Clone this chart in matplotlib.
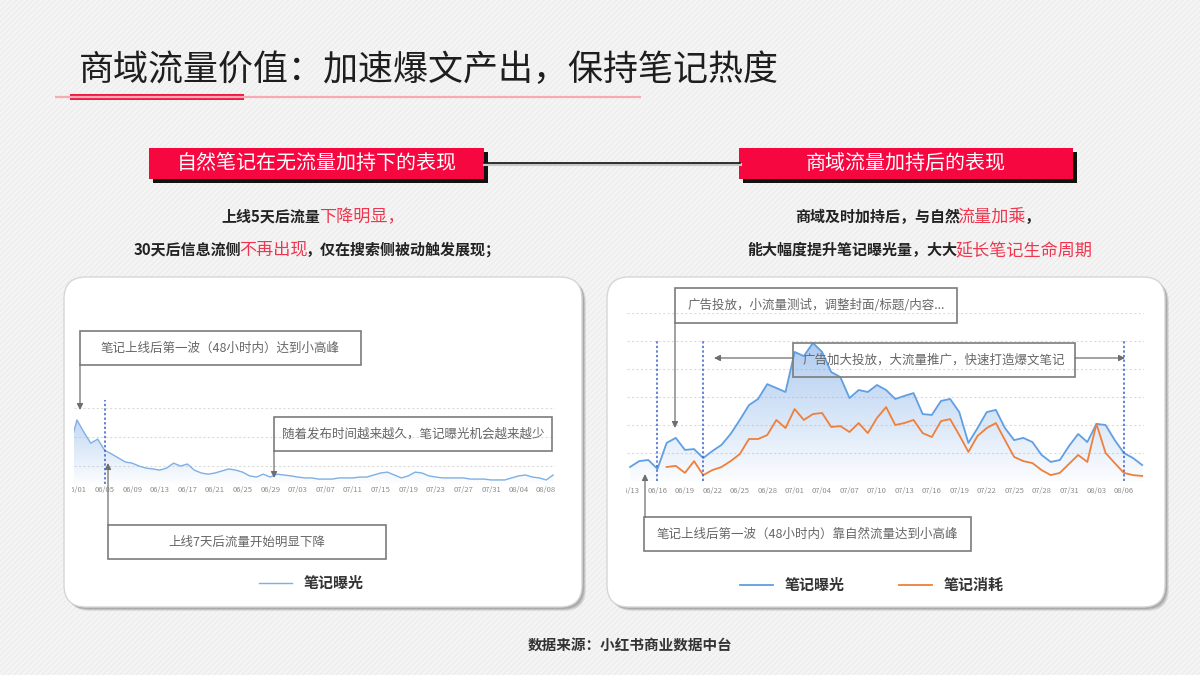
import numpy as np
import pandas as pd
import matplotlib
matplotlib.use('Agg')
import matplotlib.pyplot as plt
from matplotlib.patches import Rectangle, FancyBboxPatch
from matplotlib.transforms import Bbox, TransformedBbox

plt.rcParams['font.family'] = ['Noto Sans CJK SC', 'DejaVu Sans']
plt.rcParams['hatch.linewidth'] = 0.5

# ---------------- data ----------------
title = '商域流量价值：加速爆文产出，保持笔记热度'
left_head = '自然笔记在无流量加持下的表现'
right_head = '商域流量加持后的表现'
source = '数据来源：小红书商业数据中台'

# left chart: natural note, daily exposure, starting 05/31
left_start = '2021-05-31'
left_exposure = [1720, 2590, 2170, 1790, 1930, 1550, 1420, 1280, 1140, 1100,
                 1000, 930, 900, 860, 930, 1100, 1000, 1070, 860, 760,
                 720, 760, 830, 900, 860, 790, 660, 620, 720, 620,
                 720, 690, 660, 620, 590, 590, 550, 550, 550, 590,
                 590, 590, 620, 620, 690, 760, 790, 690, 590, 660,
                 790, 760, 660, 620, 590, 590, 590, 590, 550, 550,
                 550, 520, 520, 520, 590, 660, 690, 620, 590, 520, 690]
left_mark = ['2021-06-05']

# right chart: with paid traffic, daily exposure / cost, starting 06/13
right_start = '2021-06-13'
right_exposure = [500, 710, 750, 430, 1360, 1540, 1110, 1140, 820, 1070,
                  1290, 1680, 2180, 2710, 2930, 3460, 3320, 3180, 4610, 4460,
                  4930, 4610, 3890, 3710, 2960, 3250, 3180, 3430, 3250, 2930,
                  3040, 3140, 2390, 2360, 2860, 2930, 2460, 1360, 1890, 2460,
                  2540, 1890, 1460, 1540, 1390, 930, 680, 750, 1250, 1680,
                  1390, 2040, 2000, 1460, 1000, 820, 570]
right_cost = [np.nan] * 4 + [500, 540, 290, 710, 210, 390, 500, 710, 960, 1500,
                             1500, 1640, 2180, 1890, 2570, 2180, 2390, 2430, 1930, 1960,
                             1750, 2070, 1710, 2250, 2640, 2000, 2070, 2180, 1710, 1570,
                             2140, 2210, 1640, 1040, 1610, 1890, 2070, 1460, 860, 710,
                             640, 390, 210, 290, 610, 930, 680, 2040, 1000, 640,
                             290, 210, 180]
right_marks = ['2021-06-16', '2021-06-21', '2021-08-06']

left_notes = ['笔记上线后第一波（48小时内）达到小高峰',
              '随着发布时间越来越久，笔记曝光机会越来越少',
              '上线7天后流量开始明显下降']
right_notes = ['广告投放，小流量测试，调整封面/标题/内容...',
               '广告加大投放，大流量推广，快速打造爆文笔记',
               '笔记上线后第一波（48小时内）靠自然流量达到小高峰']

RED = '#f7073f'
PINK = '#f0364f'
GRAY_TXT = '#666666'
W, H = 1200, 675

fig = plt.figure(figsize=(12, 6.75), dpi=100)
fig.patch.set_facecolor('#f4f4f4')


def fig_rect(x0, y0, x1, y1):
    # pixel box (y down) -> figure fraction
    return [x0 / W, 1 - y1 / H, (x1 - x0) / W, (y1 - y0) / H]


bg = fig.add_axes([0, 0, 1, 1], zorder=0)
bg.set_xlim(0, W)
bg.set_ylim(H, 0)
bg.axis('off')

bg.add_patch(Rectangle((0, 0), W, H, facecolor='#f4f4f4', edgecolor='#e8e8e8',
                       hatch='//////', lw=0))

# title + underline
bg.text(79, 70, title, ha='left', va='center', fontsize=25.2, color='#1e1e1e')
bg.plot([55, 641], [96.5, 96.5], color='#f7a9b4', lw=1.6, solid_capstyle='butt')
bg.add_patch(Rectangle((70, 94), 174, 6, facecolor='#ef1a3f', edgecolor='none'))

# section headers
bg.plot([484, 740], [164, 164], color='#c8c8c8', lw=2.2)
bg.plot([484, 740], [163, 163], color='#111111', lw=1.2)
for (x0, x1), txt in zip([(149, 484), (739, 1073)], [left_head, right_head]):
    bg.add_patch(Rectangle((x0 + 4, 152), x1 - x0, 31, facecolor='#111111', edgecolor='none'))
    bg.add_patch(Rectangle((x0, 148), x1 - x0, 31, facecolor=RED, edgecolor='none'))
    bg.text((x0 + x1) / 2, 163.5, txt, ha='center', va='center', fontsize=14.4, color='white')

# panels
for x0, y0, x1, y1 in [(64, 277, 582, 607), (607, 277, 1165, 607)]:
    for k, a in [(4, 0.18), (3, 0.25), (2, 0.35)]:
        bg.add_patch(FancyBboxPatch((x0 + k, y0 + k), x1 - x0, y1 - y0,
                                    boxstyle='round,pad=0,rounding_size=22',
                                    facecolor='#7a7a7a', edgecolor='none', alpha=a))
    bg.add_patch(FancyBboxPatch((x0, y0), x1 - x0, y1 - y0,
                                boxstyle='round,pad=0,rounding_size=22',
                                facecolor='white', edgecolor='#d6d6d6', lw=1))

bg.text(630, 645, source, ha='center', va='center', fontsize=10.5,
        fontweight='bold', color='#333333')

# rich subtitles (mixed colours), centred on cx
renderer = fig.canvas.get_renderer()


def rich_line(ax, cx, y, parts, tight=2):
    texts = []
    x = 0
    for s, color, size, weight in parts:
        t = ax.text(x, y, s, ha='left', va='center', color=color,
                    fontsize=size, fontweight=weight)
        x += t.get_window_extent(renderer=renderer).width - tight
        texts.append(t)
    shift = cx - x / 2
    for t in texts:
        t.set_x(t.get_position()[0] + shift)


dark = '#222222'
DS, RS = 10.8, 12.3
rich_line(bg, 312, 217, [('上线5天后流量', dark, DS, 'bold'), ('下降明显，', PINK, RS, 'normal')])
rich_line(bg, 316, 250, [('30天后信息流侧', dark, DS, 'bold'), ('不再出现', PINK, RS, 'normal'),
                         ('，仅在搜索侧被动触发展现；', dark, DS, 'bold')])
rich_line(bg, 916, 217, [('商域及时加持后，与自然', dark, DS, 'bold'), ('流量加乘', PINK, RS, 'normal'),
                         ('，', dark, DS, 'bold')])
rich_line(bg, 919, 250, [('能大幅度提升笔记曝光量，大大', dark, DS, 'bold'),
                         ('延长笔记生命周期', PINK, RS, 'normal')])


def gradient_fill(ax, x, y, rgb, a_top, a_bot, y0):
    xlo, xhi = ax.get_xlim()
    ylo, yhi = ax.get_ylim()
    grad = np.zeros((256, 1, 4))
    grad[..., :3] = matplotlib.colors.to_rgb(rgb)
    grad[..., 3] = np.linspace(a_bot, a_top, 256)[:, None]
    im = ax.imshow(grad, extent=[xlo, xhi, y0, np.nanmax(y)], origin='lower',
                   aspect='auto', zorder=1, interpolation='bilinear')
    poly = ax.fill_between(x, y, y0, facecolor='none', edgecolor='none')
    im.set_clip_path(poly.get_paths()[0], transform=ax.transData)
    ax.set_xlim(xlo, xhi)
    ax.set_ylim(ylo, yhi)


def style_axis(ax, clip_x):
    for s in ax.spines.values():
        s.set_visible(False)
    ax.patch.set_alpha(0)
    ax.set_yticklabels([])
    ax.tick_params(axis='y', length=0)
    ax.tick_params(axis='x', length=0, labelsize=5.5, labelcolor='#8c8c8c')
    ax.grid(axis='y', color='#dcdcdc', lw=0.8, linestyle=(0, (2, 2)))
    ax.set_axisbelow(True)
    clip = TransformedBbox(Bbox.from_extents(clip_x / W, 0, 1, 1), fig.transFigure)
    for t in ax.get_xticklabels():
        t.set_clip_box(clip)
        t.set_clip_on(True)


# ---------------- left chart ----------------
l_dates = pd.date_range(left_start, periods=len(left_exposure))
lx = np.arange(len(left_exposure))
axL = fig.add_axes(fig_rect(73.5, 400, 554.5, 484), zorder=1)
axL.set_xlim(0.5, 70.2)
axL.set_ylim(380, 3280)
axL.set_yticks([1000, 2000, 3000])
lline, = axL.plot(lx, left_exposure, color='#7fb0e4', lw=1.0, zorder=3, label='笔记曝光')
gradient_fill(axL, lx, left_exposure, '#8fb8ea', 0.55, 0.02, 380)
lpos = lx[1::4]
axL.set_xticks(lpos, [d.strftime('%m/%d') for d in l_dates[1::4]])
axL.tick_params(axis='x', pad=1.5)
for d in left_mark:
    i = l_dates.get_loc(pd.Timestamp(d))
    axL.axvline(i, color='#3b5fc8', lw=1.1, linestyle=(0, (1.5, 1.5)), zorder=4)
style_axis(axL, 72)
axL.legend(handles=[lline], loc='center', bbox_to_anchor=(311 / W, 1 - 583 / H),
           bbox_transform=fig.transFigure, frameon=False, handlelength=2.2,
           prop=dict(size=10.8, weight='bold'), labelcolor='#333333')

# ---------------- right chart ----------------
r_dates = pd.date_range(right_start, periods=len(right_exposure))
rx = np.arange(len(right_exposure))
axR = fig.add_axes(fig_rect(627.3, 313, 1144, 481), zorder=1)
axR.set_xlim(-0.3, 56.2)
axR.set_ylim(0, 6000)
axR.set_yticks(np.arange(1000, 6001, 1000))
bline, = axR.plot(rx, right_exposure, color='#5f9fe2', lw=1.3, zorder=3, label='笔记曝光')
oline, = axR.plot(rx, right_cost, color='#ef7f3b', lw=1.3, zorder=3, label='笔记消耗')
gradient_fill(axR, rx, right_exposure, '#7aa9e6', 0.6, 0.03, 0)
axR.set_xticks(rx[0:55:3], [d.strftime('%m/%d') for d in r_dates[0:55:3]])
axR.tick_params(axis='x', pad=4.5)
for d in right_marks:
    i = r_dates.get_loc(pd.Timestamp(d))
    axR.vlines(i, 0, 5070, color='#3b5fc8', lw=1.1, linestyle=(0, (1.5, 1.5)), zorder=4)
style_axis(axR, 626)
axR.legend(handles=[bline, oline], loc='center', bbox_to_anchor=(872 / W, 1 - 585 / H),
           bbox_transform=fig.transFigure, frameon=False, ncol=2, handlelength=2.2,
           columnspacing=3.6, prop=dict(size=10.8, weight='bold'), labelcolor='#333333')

# ---------------- annotations overlay ----------------
ov = fig.add_axes([0, 0, 1, 1], zorder=3)
ov.set_xlim(0, W)
ov.set_ylim(H, 0)
ov.axis('off')

arrow = dict(arrowstyle='-|>', color='#6e6e6e', lw=0.9, mutation_scale=9,
             shrinkA=0, shrinkB=0)


def note_box(x0, y0, x1, y1, txt):
    ov.add_patch(Rectangle((x0, y0), x1 - x0, y1 - y0, facecolor='none',
                           edgecolor='#7c7c7c', lw=1.2))
    ov.text((x0 + x1) / 2, (y0 + y1) / 2, txt, ha='center', va='center',
            fontsize=9, color=GRAY_TXT)


def arr(x0, y0, x1, y1):
    ov.annotate('', xy=(x1, y1), xytext=(x0, y0), arrowprops=arrow)


note_box(80, 331, 361, 365, left_notes[0])
arr(80, 365, 80, 410)
note_box(274, 417, 552, 451, left_notes[1])
arr(274, 451, 274, 478)
note_box(108, 525, 386, 559, left_notes[2])
arr(108, 525, 108, 463)

note_box(675, 288, 957, 323, right_notes[0])
arr(675, 323, 675, 428)
note_box(793, 343, 1075, 377, right_notes[1])
arr(793, 358, 714, 358)
arr(1075, 358, 1125, 358)
note_box(644, 517, 971, 551, right_notes[2])
arr(645, 517, 645, 474)

fig.savefig('out.png', dpi=100, facecolor=fig.get_facecolor())
